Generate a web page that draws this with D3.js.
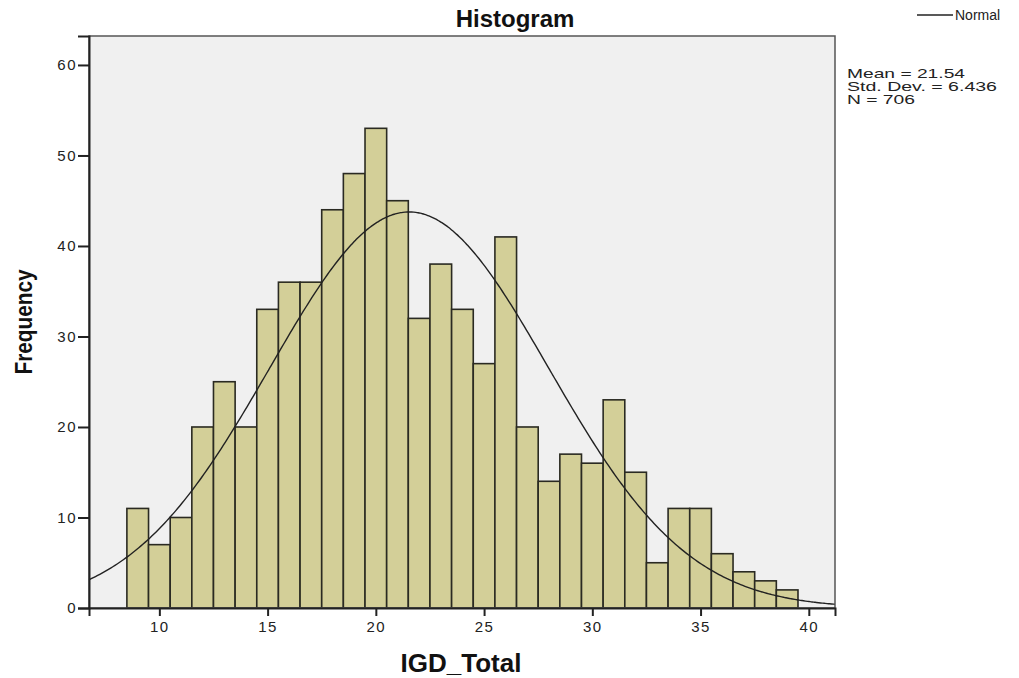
<!DOCTYPE html>
<html>
<head>
<meta charset="utf-8">
<script src="https://cdn.jsdelivr.net/npm/d3@7"></script>
<style>
  body { margin: 0; background: #fff; }
  text { font-family: "Liberation Sans", Arial, sans-serif; }
</style>
</head>
<body>
<div id="chart"></div>
<script>
// bin centres (width 1) and counts
var binCenters = [9, 10, 11, 12, 13, 14, 15, 16, 17, 18, 19, 20, 21, 22, 23, 24, 25, 26, 27, 28, 29, 30, 31, 32, 33, 34, 35, 36, 37, 38, 39];
var counts = [11, 7, 10, 20, 25, 20, 33, 36, 36, 44, 48, 53, 45, 32, 38, 33, 27, 41, 20, 14, 17, 16, 23, 15, 5, 11, 11, 6, 4, 3, 2];
var xTicks = [10, 15, 20, 25, 30, 35, 40];
var yTicks = [0, 10, 20, 30, 40, 50, 60];
var stats = { mean: 21.54, sd: 6.436, n: 706 };
var statLines = ["Mean = 21.54", "Std. Dev. = 6.436", "N = 706"];
var statWidths = [118, 150, 68];

var W = 1019, H = 678;
var margin = { top: 36, right: 184, bottom: 70, left: 89 },
  width = W - margin.left - margin.right,
  height = H - margin.top - margin.bottom;

var svg = d3
  .select("#chart")
  .append("svg")
  .attr("width", W)
  .attr("height", H);

var g = svg
  .append("g")
  .attr("transform", "translate(" + margin.left + "," + margin.top + ")");

var x = d3.scaleLinear().domain([6.75, 41.21]).range([0, width]);
var y = d3.scaleLinear().domain([0, 63.2]).range([height, 0]);

// plot background
g.append("rect")
  .attr("width", width)
  .attr("height", height)
  .attr("fill", "#f0f0f0");

// blur for the soft bar edges
var defs = svg.append("defs");
defs.append("filter")
  .attr("id", "soft")
  .append("feGaussianBlur")
  .attr("stdDeviation", 0.6);

// bars
g.selectAll(".bar")
  .data(counts)
  .enter()
  .append("rect")
  .attr("class", "bar")
  .attr("x", (d, i) => x(binCenters[i] - 0.5))
  .attr("width", (d, i) => x(binCenters[i] + 0.5) - x(binCenters[i] - 0.5))
  .attr("y", (d) => y(d))
  .attr("height", (d) => y(0) - y(d))
  .attr("fill", "#d3cf98")
  .attr("stroke", "#2a2a22")
  .attr("stroke-width", 1.6)
  .attr("filter", "url(#soft)");

// normal curve from the reported mean / sd / N
var curveX = d3.range(6.75, 41.21, 0.1).concat([41.21]);
var pdf = function (v) {
  var z = (v - stats.mean) / stats.sd;
  return (stats.n * 1) / (stats.sd * Math.sqrt(2 * Math.PI)) * Math.exp(-0.5 * z * z);
};
var line = d3
  .line()
  .x((d) => x(d))
  .y((d) => y(pdf(d)))
  .curve(d3.curveBasis);

g.append("path")
  .datum(curveX)
  .attr("d", line)
  .attr("fill", "none")
  .attr("stroke", "#222")
  .attr("stroke-width", 1.4);

// frame
g.append("rect")
  .attr("width", width)
  .attr("height", height)
  .attr("fill", "none")
  .attr("stroke", "#555")
  .attr("stroke-width", 1.5);

// axes
var yAxis = g
  .append("g")
  .call(d3.axisLeft(y).tickValues(yTicks).tickSize(11).tickPadding(1).tickFormat(d3.format("d")));
var xAxis = g
  .append("g")
  .attr("transform", "translate(0," + height + ")")
  .call(d3.axisBottom(x).tickValues(xTicks).tickSize(8).tickPadding(5).tickFormat(d3.format("d")));

[xAxis, yAxis].forEach(function (a) {
  a.select(".domain").attr("stroke", "#222").attr("stroke-width", 2);
  a.selectAll(".tick line").attr("stroke", "#222").attr("stroke-width", 2);
  a.selectAll(".tick text")
    .attr("fill", "#222")
    .style("font-size", "15px")
    .style("letter-spacing", "1.5px");
});

// title and axis labels
svg.append("text")
  .attr("x", 515)
  .attr("y", 27)
  .attr("text-anchor", "middle")
  .style("font-size", "24px")
  .style("font-weight", "bold")
  .attr("fill", "#111")
  .text("Histogram");

svg.append("text")
  .attr("x", 461)
  .attr("y", 672)
  .attr("text-anchor", "middle")
  .style("font-size", "26px")
  .style("font-weight", "bold")
  .attr("fill", "#111")
  .text("IGD_Total");

svg.append("text")
  .attr("transform", "translate(32," + (margin.top + height / 2) + ") rotate(-90)")
  .attr("text-anchor", "middle")
  .style("font-size", "24px")
  .style("font-weight", "bold")
  .attr("textLength", 105)
  .attr("lengthAdjust", "spacingAndGlyphs")
  .attr("fill", "#111")
  .text("Frequency");

// legend
svg.append("line")
  .attr("x1", 917)
  .attr("x2", 953)
  .attr("y1", 15)
  .attr("y2", 15)
  .attr("stroke", "#222")
  .attr("stroke-width", 1.4);
svg.append("text")
  .attr("x", 955)
  .attr("y", 20)
  .style("font-size", "14px")
  .attr("fill", "#222")
  .text("Normal");

// summary stats
svg.selectAll(".stat")
  .data(statLines)
  .enter()
  .append("text")
  .attr("class", "stat")
  .attr("x", 847)
  .attr("y", (d, i) => 78 + i * 13)
  .style("font-size", "13px")
  .attr("textLength", (d, i) => statWidths[i])
  .attr("lengthAdjust", "spacingAndGlyphs")
  .attr("fill", "#222")
  .text((d) => d);
</script>
</body>
</html>
